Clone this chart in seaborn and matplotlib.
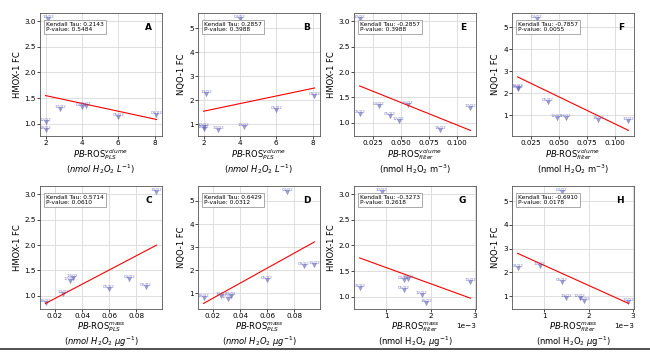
import numpy as np
import pandas as pd
import matplotlib
matplotlib.use("Agg")
import matplotlib.pyplot as plt
from matplotlib.lines import Line2D
import seaborn as sns

samples = ["03/02", "04/02", "05/02", "10/02", "12/02", "14/02", "17/02", "18/02"]
hmox = [1.18, 1.33, 1.13, 3.05, 1.03, 1.35, 1.29, 0.87]
nqo = [2.20, 5.40, 1.60, 2.25, 0.90, 0.90, 0.75, 0.80]
vol_pls = [8.1, 4.0, 6.0, 2.15, 2.0, 4.2, 2.8, 2.0]
mass_pls = [0.087, 0.075, 0.060, 0.095, 0.026, 0.033, 0.031, 0.013]
vol_filter = [0.013, 0.030, 0.040, 0.013, 0.048, 0.056, 0.112, 0.085]
mass_filter = [0.0004, 0.0014, 0.0014, 0.0009, 0.0018, 0.0015, 0.0029, 0.0019]

taus = {"A": (0.2143, 0.5484), "B": (0.2857, 0.3988), "E": (-0.2857, 0.3988), "F": (-0.7857, 0.0055),
        "C": (0.5714, 0.0610), "D": (0.6429, 0.0312), "G": (-0.3273, 0.2618), "H": (-0.6910, 0.0178)}

df = pd.DataFrame({"sample": samples, "hmox": hmox, "nqo": nqo, "vol_pls": vol_pls,
                   "mass_pls": mass_pls, "vol_filter": vol_filter, "mass_filter": mass_filter})

xlab = {
    "vol_pls": (r"$PB$-ROS$_{PLS}^{volume}$", r"$(nmol\ H_2O_2\ L^{-1})$"),
    "mass_pls": (r"$PB$-ROS$_{PLS}^{mass}$", r"$(nmol\ H_2O_2\ \mu g^{-1})$"),
    "vol_filter": (r"$PB$-ROS$_{filter}^{volume}$", r"(nmol H$_2$O$_2$ m$^{-3}$)"),
    "mass_filter": (r"$PB$-ROS$_{filter}^{mass}$", r"(nmol H$_2$O$_2$ $\mu$g$^{-1}$)"),
}
ylab = {"hmox": "HMOX-1 FC", "nqo": "NQO-1 FC"}

panels = [
    ("A", "vol_pls", "hmox", 0, 0), ("B", "vol_pls", "nqo", 0, 1),
    ("E", "vol_filter", "hmox", 0, 2), ("F", "vol_filter", "nqo", 0, 3),
    ("C", "mass_pls", "hmox", 1, 0), ("D", "mass_pls", "nqo", 1, 1),
    ("G", "mass_filter", "hmox", 1, 2), ("H", "mass_filter", "nqo", 1, 3),
]

W, H = 650, 352
fig = plt.figure(figsize=(6.5, 3.52), dpi=100)
lefts = [40, 198, 354, 512]
tops = [13, 186]
aw, ah = 122, 123

pt_color = "#5c5cb8"
for letter, xc, yc, r, c in panels:
    ax = fig.add_axes([lefts[c] / W, 1 - (tops[r] + ah) / H, aw / W, ah / H])
    sns.regplot(data=df, x=xc, y=yc, scatter=False, ci=None, ax=ax,
                color="red", line_kws={"lw": 0.8})
    sns.scatterplot(data=df, x=xc, y=yc, ax=ax, marker="v", s=10,
                    color=pt_color, alpha=0.6, edgecolor=pt_color, linewidth=0.3)
    for _, row in df.iterrows():
        ax.text(row[xc], row[yc], row["sample"], fontsize=3, color=pt_color,
                alpha=0.8, ha="center", va="bottom")
    ax.grid(True, color="#d9d9d9", lw=0.6)
    ax.set_axisbelow(True)
    for s in ax.spines.values():
        s.set_color("#555555")
        s.set_linewidth(0.6)
    if xc == "mass_filter":
        ax.ticklabel_format(axis="x", style="sci", scilimits=(0, 0))
    ax.tick_params(labelsize=5.2, length=2, width=0.5, pad=1)
    ax.xaxis.get_offset_text().set_fontsize(5.2)
    ax.set_xlabel("")
    line1, line2 = xlab[xc]
    ax.annotate(line1, xy=(0.5, 0), xycoords="axes fraction", xytext=(0, -13.5),
                textcoords="offset points", ha="center", va="center", fontsize=6)
    ax.annotate(line2, xy=(0.5, 0), xycoords="axes fraction", xytext=(0, -23.5),
                textcoords="offset points", ha="center", va="center", fontsize=6)
    ax.set_ylabel(ylab[yc], fontsize=6, labelpad=2)
    t, p = taus[letter]
    ax.text(0.05, 0.93, f"Kendall Tau: {t:.4f}\nP-value: {p:.4f}", transform=ax.transAxes,
            fontsize=4.2, va="top", ha="left", linespacing=1.2,
            bbox=dict(boxstyle="square,pad=0.3", facecolor="white", edgecolor="#888888", lw=0.5))
    ax.text(0.92, 0.88, letter, transform=ax.transAxes, fontsize=6.5, fontweight="bold",
            ha="right", va="center")

fig.add_artist(Line2D([0, 1], [1 - 349 / H, 1 - 349 / H], color="#333333", lw=1.2,
                      transform=fig.transFigure))

fig.savefig("out.png", dpi=100)
